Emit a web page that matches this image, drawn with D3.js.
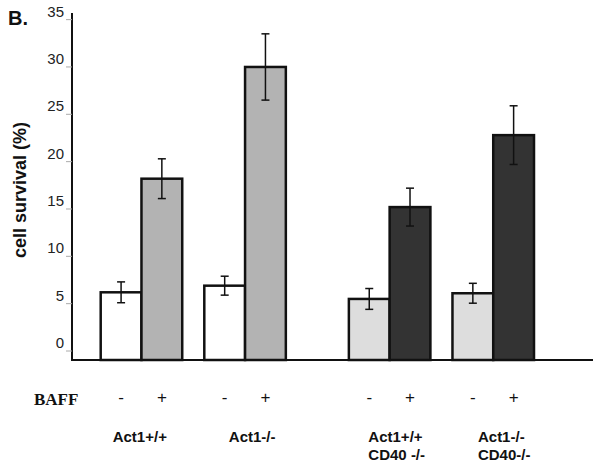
<!DOCTYPE html>
<html>
<head>
<meta charset="utf-8">
<script src="https://cdn.jsdelivr.net/npm/d3@7"></script>
<style>
  html, body { margin: 0; padding: 0; background: #fff; }
  svg { display: block; }
</style>
</head>
<body>
<svg id="chart" width="602" height="467"></svg>
<script>
// ---- data ----
const halves = ["Act1", "Act1 CD40-/-"];
const groups = ["Act1+/+", "Act1-/-", "Act1+/+ CD40 -/-", "Act1-/- CD40-/-"];
const groupLines = [["Act1+/+"], ["Act1-/-"], ["Act1+/+", "CD40 -/-"], ["Act1-/-", "CD40-/-"]];
const baff = ["-", "+"];
const means = [6.2, 18.2, 6.9, 30.0, 5.5, 15.2, 6.1, 22.8];
const errors = [1.1, 2.1, 1.0, 3.5, 1.1, 2.0, 1.05, 3.1];
const yTicks = [0, 5, 10, 15, 20, 25, 30, 35];
const fills = ["#ffffff", "#b3b3b3", "#ffffff", "#b3b3b3", "#dddddd", "#333333", "#dddddd", "#333333"];

const svg = d3.select("#chart");

// ---- scales ----
const y = d3.scaleLinear().domain([-0.95, 35.7]).range([360, 13]);
const xHalf = d3.scaleBand().domain(d3.range(halves.length)).range([100.7, 534]).paddingInner(0.254).paddingOuter(0);
const xGroup = d3.scaleBand().domain([0, 1]).range([0, xHalf.bandwidth()]).paddingInner(0.213).paddingOuter(0);
const xBar = d3.scaleBand().domain(baff).range([0, xGroup.bandwidth()]).padding(0);

function groupLeft(g) { return xHalf(Math.floor(g / 2)) + xGroup(g % 2); }

const bars = means.map((m, i) => ({
  g: Math.floor(i / 2), s: baff[i % 2], v: m, e: errors[i], fill: fills[i]
}));

const SANS = "Liberation Sans, Arial, sans-serif";

// ---- panel letter ----
svg.append("text").attr("x", 8).attr("y", 25)
  .attr("font-family", SANS)
  .attr("font-weight", "bold").attr("font-size", 20).attr("fill", "#111").text("B.");

// ---- y axis ----
const axisX = 72;
svg.append("line").attr("x1", axisX).attr("x2", axisX).attr("y1", y.range()[1]).attr("y2", y.range()[0])
  .attr("stroke", "#111").attr("stroke-width", 2);

const tickG = svg.append("g");
tickG.selectAll("line").data(yTicks).join("line")
  .attr("x1", axisX - 6).attr("x2", axisX).attr("y1", d => y(d)).attr("y2", d => y(d))
  .attr("stroke", "#aaa").attr("stroke-width", 1);
tickG.selectAll("text").data(yTicks).join("text")
  .attr("x", 64).attr("y", d => y(d) - 3)
  .attr("text-anchor", "end")
  .attr("font-family", SANS)
  .attr("font-size", 15).attr("fill", "#222").text(d => d);

svg.append("text")
  .attr("transform", "translate(26,190) rotate(-90)")
  .attr("text-anchor", "middle")
  .attr("font-family", SANS)
  .attr("font-weight", "bold").attr("font-size", 18).attr("fill", "#111")
  .text("cell survival (%)");

// ---- bars ----
const barG = svg.append("g");
barG.selectAll("rect").data(bars).join("rect")
  .attr("x", d => groupLeft(d.g) + xBar(d.s))
  .attr("width", xBar.bandwidth())
  .attr("y", d => y(d.v))
  .attr("height", d => y(y.domain()[0]) - y(d.v))
  .attr("fill", d => d.fill)
  .attr("stroke", "#111").attr("stroke-width", 2.5);

// ---- error bars ----
const errG = svg.append("g").attr("stroke", "#111").attr("stroke-width", 1.5);
bars.forEach(d => {
  const cx = groupLeft(d.g) + xBar(d.s) + xBar.bandwidth() / 2;
  const y1 = y(d.v + d.e), y2 = y(d.v - d.e);
  errG.append("line").attr("x1", cx).attr("x2", cx).attr("y1", y1).attr("y2", y2);
  errG.append("line").attr("x1", cx - 4).attr("x2", cx + 4).attr("y1", y1).attr("y2", y1);
  errG.append("line").attr("x1", cx - 4).attr("x2", cx + 4).attr("y1", y2).attr("y2", y2);
});

// ---- baseline ----
svg.append("line").attr("x1", axisX - 1).attr("x2", 593).attr("y1", y(y.domain()[0])).attr("y2", y(y.domain()[0]))
  .attr("stroke", "#111").attr("stroke-width", 1.8);

// ---- BAFF row ----
svg.append("text").attr("x", 34).attr("y", 405)
  .attr("font-family", "Liberation Serif, Times New Roman, serif")
  .attr("font-weight", "bold").attr("font-size", 17).attr("fill", "#111").text("BAFF");

const signG = svg.append("g");
bars.forEach(d => {
  const cx = groupLeft(d.g) + xBar(d.s) + xBar.bandwidth() / 2;
  signG.append("text").attr("x", cx).attr("y", 403)
    .attr("text-anchor", "middle")
    .attr("font-family", SANS)
    .attr("font-size", 17).attr("fill", "#111").text(d.s);
});

// ---- group labels ----
const labelShift = [12, 24.5, 19.5, 25.5];
const labG = svg.append("g");
groupLines.forEach((lines, g) => {
  const lx = groupLeft(g) + labelShift[g];
  const t = labG.append("text")
    .attr("x", lx)
    .attr("y", 442)
    .attr("font-family", SANS)
    .attr("font-weight", "bold").attr("font-size", 15).attr("fill", "#111");
  lines.forEach((ln, k) => {
    t.append("tspan").attr("x", lx).attr("dy", k === 0 ? 0 : 17.5).text(ln);
  });
});
</script>
</body>
</html>
